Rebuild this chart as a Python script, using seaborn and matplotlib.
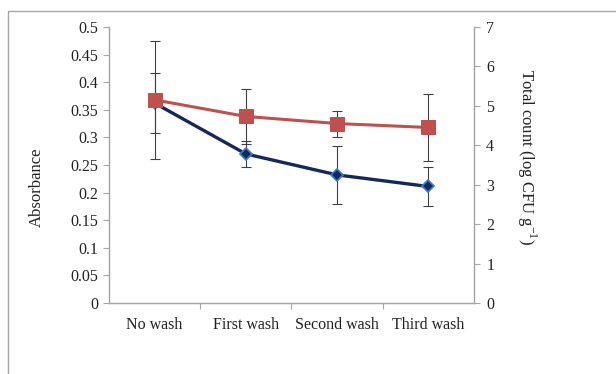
import matplotlib
matplotlib.use("Agg")
import matplotlib.pyplot as plt
import numpy as np
import pandas as pd
import seaborn as sns
from matplotlib.patches import Rectangle

# --- data
stages = ["No wash", "First wash", "Second wash", "Third wash"]
absorbance = [0.362, 0.270, 0.232, 0.211]
absorbance_err = [0.055, 0.023, 0.053, 0.035]
total_count = [5.15, 4.73, 4.55, 4.45]
total_count_err = [1.50, 0.69, 0.33, 0.84]

sns.set_theme(style="white")
plt.rcParams["font.family"] = ["Liberation Serif", "DejaVu Serif"]
plt.rcParams["mathtext.fontset"] = "custom"
plt.rcParams["mathtext.rm"] = "Liberation Serif"

grey = "#a6a6a6"
navy = "#14285a"
red = "#c0504d"

df = pd.DataFrame({"pos": np.arange(len(stages)), "stage": stages,
                   "absorbance": absorbance, "count": total_count})

fig = plt.figure(figsize=(6.16, 3.74), dpi=100)
ax = fig.add_axes([0.177, 0.19, 0.592, 0.738])
ax2 = ax.twinx()

# absorbance series (left axis)
ax.errorbar(df["pos"], df["absorbance"], yerr=absorbance_err, fmt="none",
            ecolor="#404040", elinewidth=0.8, capsize=3.5, capthick=0.8, zorder=2)
sns.lineplot(data=df, x="pos", y="absorbance", ax=ax, color=navy, linewidth=2.4,
             marker="D", markersize=6, markerfacecolor=navy,
             markeredgecolor="#3a7ad0", markeredgewidth=1.2, zorder=3)

# total count series (right axis)
ax2.errorbar(df["pos"], df["count"], yerr=total_count_err, fmt="none",
             ecolor="#404040", elinewidth=0.8, capsize=3.5, capthick=0.8, zorder=2)
sns.lineplot(data=df, x="pos", y="count", ax=ax2, color=red, linewidth=2.2,
             marker="s", markersize=9.5, markerfacecolor=red,
             markeredgecolor=red, zorder=3)

ax.set_xlim(-0.5, 3.5)
ax.set_ylim(0, 0.5)
ax2.set_ylim(0, 7)
ax.set_yticks(np.arange(0, 0.501, 0.05))
ax.set_yticklabels(["0", "0.05", "0.1", "0.15", "0.2", "0.25", "0.3", "0.35",
                    "0.4", "0.45", "0.5"])
ax2.set_yticks(range(8))

ax.set_xticks(range(len(stages)))
ax.set_xticklabels(stages)
ax.set_xticks([0.5, 1.5, 2.5], minor=True)
ax.tick_params(axis="x", which="major", length=0, pad=10, labelsize=11.5, colors="#222222")
ax.tick_params(axis="x", which="minor", length=4, width=0.8, color=grey, bottom=True)
ax.tick_params(axis="y", length=4, width=0.8, color=grey, left=True, labelsize=11.5,
               labelcolor="#222222", pad=4)
ax2.tick_params(axis="y", length=4, width=0.8, color=grey, right=True, labelsize=11.5,
                labelcolor="#222222", pad=5)

ax.set_xlabel("")
ax.set_ylabel("Absorbance", fontsize=12, color="#222222")
ax.yaxis.set_label_coords(-0.176, 0.42)
ax2.set_ylabel(r"Total count (log CFU g$^{-1}$)", fontsize=12, color="#222222",
               rotation=270, va="center")
ax2.yaxis.set_label_coords(1.145, 0.53)

for a in (ax, ax2):
    a.spines["top"].set_visible(False)
    for s in ("left", "right", "bottom"):
        a.spines[s].set_color(grey)
        a.spines[s].set_linewidth(0.9)
    a.grid(False)

# outer frame of the original figure
fig.add_artist(Rectangle((8 / 616, -0.1), 1.2, 1 - 11 / 374 + 0.1,
                         transform=fig.transFigure, fill=False,
                         edgecolor=grey, linewidth=1.0))

fig.savefig("out.png", dpi=100)
